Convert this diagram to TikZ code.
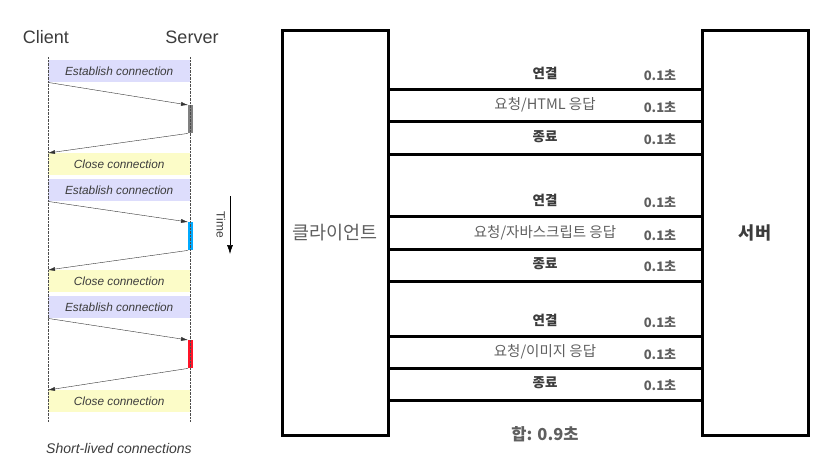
\documentclass[tikz,border=0pt]{standalone}
\usepackage{fontspec}
\usepackage{tikz}
\usetikzlibrary{arrows.meta, calc}
\setmainfont{Liberation Sans}
\newfontfamily\kr{Noto Sans CJK KR}
\definecolor{estfill}{RGB}{221, 221, 252}
\definecolor{closefill}{RGB}{252, 252, 200}
\definecolor{bargray}{RGB}{128, 128, 128}
\definecolor{barblue}{RGB}{0, 170, 255}
\definecolor{barred}{RGB}{255, 20, 40}
\definecolor{labeldark}{RGB}{60, 60, 60}
\definecolor{labelgray}{RGB}{95, 95, 95}

\begin{document}
\begin{tikzpicture}[x=1pt, y=-1pt,
    phase/.style={anchor=north west, minimum width=142pt, minimum height=22pt, inner sep=0pt,
        font=\fontsize{11.8}{13}\selectfont\itshape, text=labeldark},
    bar/.style={anchor=north west, minimum width=5pt, minimum height=28pt, inner sep=0pt},
    msg/.style={-{Latex[length=7pt, width=4pt]}, thin, black!80},
    bigbox/.style={draw, line width=3pt, minimum width=106pt, minimum height=405pt, inner sep=0pt},
    steplabel/.style={font=\kr\fontsize{14.5}{16}\selectfont, text=labelgray},
    timelabel/.style={font=\kr\bfseries\fontsize{13}{15}\selectfont, text=labelgray}]
    \useasboundingbox (0,0) rectangle (828,472);

    % 왼쪽: 짧은 연결의 시퀀스
    \node[font=\fontsize{18}{20}\selectfont, text=labeldark] (client) at (46,37) {Client};
    \node[font=\fontsize{18}{20}\selectfont, text=labeldark] (server) at (192,37) {Server};
    \coordinate (ctop) at (48,57);  \coordinate (cbot) at (48,422);
    \coordinate (stop) at (190,57); \coordinate (sbot) at (190,422);

    \foreach \n/\e/\b/\c/\col in {1/60/105/153/bargray, 2/179/222/270/barblue, 3/296/340/390/barred} {
        \node[phase, fill=estfill] (est\n) at (48,\e) {Establish connection};
        \node[phase, fill=closefill] (close\n) at (48,\c) {Close connection};
        \node[bar, fill=\col] (bar\n) at (188,\b) {};
        \draw[msg] (est\n.south west) -- (bar\n.north west);
        \draw[msg] (bar\n.south west) -- (close\n.north west);
    }
    \draw[densely dotted, black!70] (ctop) -- (cbot);
    \draw[densely dotted, black!70] (stop) -- (sbot);

    % 시간 화살표
    \coordinate (tstart) at (230,196);
    \coordinate (tend) at (230,254);
    \draw[-{Latex[length=9pt, width=6pt]}, semithick] (tstart) -- (tend);
    \node[rotate=-90, font=\fontsize{12}{14}\selectfont, text=labeldark] (time) at (221,225) {Time};

    \node[font=\fontsize{14}{16}\selectfont\itshape, text=labeldark] (caption) at (119,448) {Short-lived connections};

    % 오른쪽: 클라이언트와 서버
    \node[bigbox, font=\kr\fontsize{18.5}{21}\selectfont, text=labelgray] (cl) at (335,232.5) {클라이언트};
    \node[bigbox, font=\kr\bfseries\fontsize{17.5}{20}\selectfont, text=labeldark] (sv) at (755,232.5) {서버};
    \foreach \y in {89,121,154,216,249,281,336,368,400}
        \draw[line width=3pt] (cl.east |- 0,\y) -- (sv.west |- 0,\y);

    % 단계별 라벨
    \foreach \y/\t/\s in {73/연결/1, 105/요청\slash HTML 응답/0, 137/종료/1,
                          200/연결/1, 233/요청\slash 자바스크립트 응답/0, 264/종료/1,
                          320/연결/1, 352/요청\slash 이미지 응답/0, 383/종료/1} {
        \ifnum\s=1
            \node[steplabel, font=\kr\bfseries\fontsize{13.5}{15}\selectfont, text=labeldark] (step\y) at (545,\y) {\t};
        \else
            \node[steplabel] (step\y) at (545,\y) {\t};
        \fi
        \node[timelabel] (time\y) at (660,\y+2) {0.1초};
    }

    % 합계
    \node[font=\kr\bfseries\fontsize{16.5}{18}\selectfont, text=labelgray] (total) at (545,434) {합: 0.9초};
\end{tikzpicture}
\end{document}
